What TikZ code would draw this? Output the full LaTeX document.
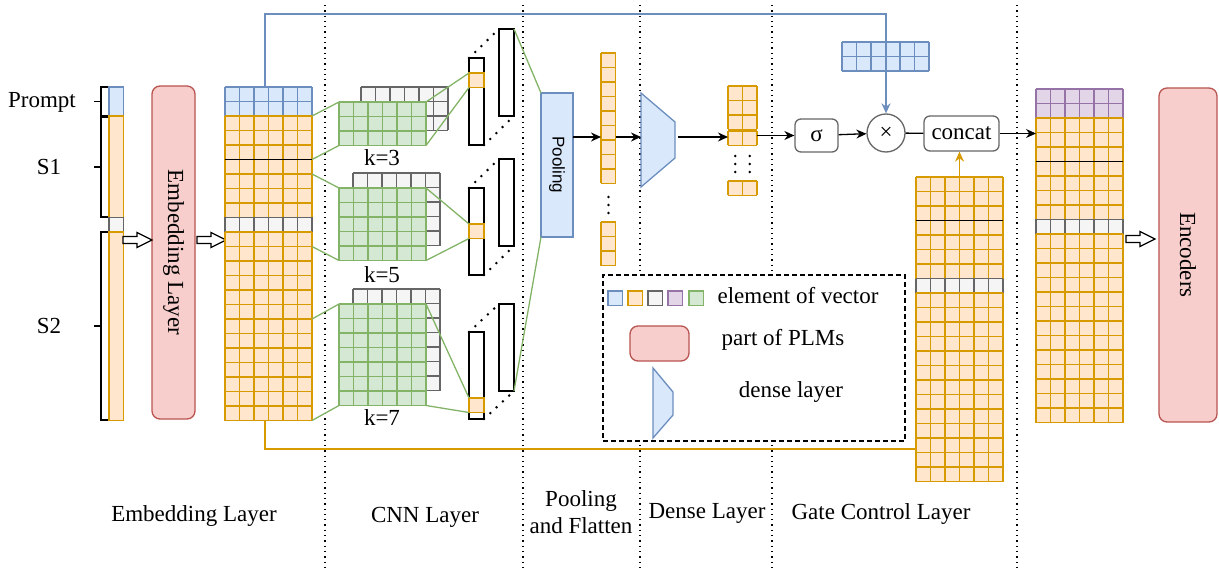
\documentclass[tikz,border=0pt]{standalone}
\usepackage{graphicx}
\usepackage{fontspec}
\setmainfont{Liberation Serif}
\setsansfont{Liberation Sans}
\usetikzlibrary{arrows.meta}
\definecolor{bluefill}{HTML}{DAE8FC}
\definecolor{bluedraw}{HTML}{6C8EBF}
\definecolor{orangefill}{HTML}{FFE6CC}
\definecolor{orangedraw}{HTML}{D79B00}
\definecolor{grayfill}{HTML}{F5F5F5}
\definecolor{graydraw}{HTML}{666666}
\definecolor{purplefill}{HTML}{E1D5E7}
\definecolor{purpledraw}{HTML}{9673A6}
\definecolor{greenfill}{HTML}{D5E8D4}
\definecolor{greendraw}{HTML}{82B366}
\definecolor{redfill}{HTML}{F8CECC}
\definecolor{reddraw}{HTML}{B85450}

% grid of cells: x, y (top left), columns, rows, colour name
\newcommand{\cells}[5]{%
  \fill[#5fill] (#1,#2) rectangle ++({#3*14.5},{#4*14.5});
  \foreach \ci in {0,...,#3} \draw[#5draw, line width=0.8pt] ({#1+\ci*14.5},#2) -- ++(0,{#4*14.5});
  \foreach \cj in {0,...,#4} \draw[#5draw, line width=0.8pt] (#1,{#2+\cj*14.5}) -- ++({#3*14.5},0);}

\begin{document}
\begin{tikzpicture}[x=0.5pt, y=-0.5pt, line width=0.65pt,
  font=\fontsize{11.5}{13.8}\selectfont,
  >={Stealth[length=5pt,width=4.5pt]},
  bluecell/.style={fill=bluefill, draw=bluedraw},
  orangecell/.style={fill=orangefill, draw=orangedraw},
  graycell/.style={fill=grayfill, draw=graydraw},
  purplecell/.style={fill=purplefill, draw=purpledraw},
  greencell/.style={fill=greenfill, draw=greendraw},
  blank/.style={inner sep=0pt, outer sep=0pt, anchor=north west},
  plm/.style={fill=redfill, draw=reddraw, rounded corners=4pt, inner sep=0pt},
  featcol/.style={blank, draw=black, fill=white, line width=0.75pt, minimum width=7.5pt, minimum height=43.5pt},
  featcell/.style={blank, orangecell, line width=0.8pt, minimum width=7.5pt, minimum height=7.25pt},
  greenline/.style={draw=greendraw},
  blueline/.style={draw=bluedraw},
  orangeline/.style={draw=orangedraw},
  dotline/.style={dash pattern=on 0pt off 4.3pt, line cap=round, line width=1.4pt},
  divider/.style={dotted, line width=0.65pt},
  opbox/.style={draw=graydraw, fill=white, rounded corners=3pt, inner sep=0pt},
  densestyle/.style={fill=bluefill, draw=bluedraw},
  hollow/.pic={\draw[fill=white] (0,-3.5) -- (14,-3.5) -- (14,-7.5) -- (29,0) -- (14,7.5) -- (14,3.5) -- (0,3.5) -- cycle;}
]
\useasboundingbox (0,0) rectangle (1219,572);
\foreach \x in {325,523,640,772,1017} \draw[divider] (\x,5) -- (\x,572);

% input sequence
\draw[bluecell, line width=0.8pt] (109,87) rectangle (123.5,116);
\draw[orangecell, line width=0.8pt] (109,116) rectangle (123.5,217.5);
\draw[graycell, line width=0.8pt] (109,217.5) rectangle (123.5,232);
\draw[orangecell, line width=0.8pt] (109,232) rectangle (123.5,420.5);
\node[blank, minimum width=7.25pt, minimum height=166.75pt] (inp) at (109,87) {};
\draw (108,87) -- (101,87) -- (101,116) -- (108,116); \draw (94,101.5) -- (101,101.5);
\draw (108,117) -- (101,117) -- (101,217) -- (108,217); \draw (94,167) -- (101,167);
\draw (108,232) -- (101,232) -- (101,420) -- (108,420); \draw (94,326) -- (101,326);
\node (prompt) at (42,102) {Prompt};
\node (s1) at (49,167) {S1};
\node (s2) at (49,326) {S2};

\node[plm, minimum width=21.5pt, minimum height=166.5pt] (embl) at (173.5,252.5) {\rotatebox{-90}{Embedding Layer}};
\pic at (123,240) {hollow};
\pic at (197,240) {hollow};

% embedding output
\cells{225}{87}{6}{2}{blue}
\cells{225}{116}{6}{7}{orange}
\cells{225}{217.5}{6}{1}{gray}
\cells{225}{232}{6}{13}{orange}
\draw[line width=0.8pt] (225,159.5) -- (312,159.5);
\node[blank, minimum width=43.5pt, minimum height=166.75pt] (emb) at (225,87) {};

% cnn
\cells{361}{87}{6}{3}{gray}
\cells{339}{102}{6}{3}{green}
\node[blank, minimum width=43.5pt, minimum height=21.75pt] (g3) at (339,102) {};
\cells{353}{173}{6}{5}{gray}
\cells{339}{188}{6}{5}{green}
\node[blank, minimum width=43.5pt, minimum height=36.25pt] (g5) at (339,188) {};
\cells{353}{289}{6}{7}{gray}
\cells{339}{304}{6}{7}{green}
\node[blank, minimum width=43.5pt, minimum height=50.75pt] (g7) at (339,304) {};
\node (k3) at (382,158) {k=3};
\node (k5) at (382,275) {k=5};
\node (k7) at (382,418) {k=7};

\node[featcol] (b3) at (499,29) {};
\node[featcol] (f3) at (469,58) {};
\node[featcell] (c3) at (469,73) {};
\node[featcol] (b5) at (499,159) {};
\node[featcol] (f5) at (469,188) {};
\node[featcell] (c5) at (469,224) {};
\node[featcol] (b7) at (499,304) {};
\node[featcol] (f7) at (469,332) {};
\node[featcell] (c7) at (469,398) {};

\draw[greenline] ([yshift=-14.5pt]emb.north east) -- (g3.north west);
\draw[greenline] ([yshift=-36.25pt]emb.north east) -- (g3.south west);
\draw[greenline] ([yshift=-43.5pt]emb.north east) -- (g5.north west);
\draw[greenline] ([yshift=-79.75pt]emb.north east) -- (g5.south west);
\draw[greenline] ([yshift=-116pt]emb.north east) -- (g7.north west);
\draw[greenline] (emb.south east) -- (g7.south west);
\draw[greenline] (g3.north east) -- (c3.north west);
\draw[greenline] (g3.south east) -- (c3.south west);
\draw[greenline] (g5.north east) -- (c5.north west);
\draw[greenline] (g5.south east) -- (c5.south west);
\draw[greenline] (g7.north east) -- (c7.north west);
\draw[greenline] (g7.south east) -- (c7.south west);
\draw[dotline] (f3.north west) -- (b3.north west);
\draw[dotline] (f3.south east) -- (b3.south east);
\draw[dotline] (f5.north west) -- (b5.north west);
\draw[dotline] (f5.south east) -- (b5.south east);
\draw[dotline] (f7.north west) -- (b7.north west);
\draw[dotline] (f7.south east) -- (b7.south east);

% pooling and flatten
\node[blank, fill=bluefill, draw=bluedraw, minimum width=16pt, minimum height=72pt, font=\fontsize{8.5}{10}\sffamily] (pool) at (541,93) {\rotatebox{-90}{Pooling}};
\draw[greenline] (b3.north east) -- (pool.north west);
\draw[greenline] (b7.south east) -- (pool.south west);
\cells{601}{53}{1}{9}{orange}
\node[blank, minimum width=7.25pt, minimum height=65.25pt] (flat) at (601,53) {};
\foreach \d in {0,1,2} \fill (608.5,197+\d*8) circle (0.7pt);
\cells{601}{222}{1}{3}{orange}

% dense
\draw[densestyle] (641,93) -- (675,122) -- (675,158) -- (641,187) -- cycle;
\coordinate (dense-in) at (641,137);
\coordinate (dense-out) at (678,137);
\cells{728}{86}{2}{3}{orange}
\cells{728}{131}{2}{1}{orange}
\node[blank, minimum width=14.5pt, minimum height=29.5pt] (dout) at (728,86) {};
\foreach \d in {0,1,2} {\fill (735.25,156+\d*8) circle (0.7pt); \fill (749.75,156+\d*8) circle (0.7pt);}
\cells{728}{181}{2}{1}{orange}
\draw[->] (pool.east |- dense-in) -- (flat.west |- dense-in);
\draw[->] (flat.east |- dense-in) -- (dense-in);
\draw[->] (dense-out) -- (dout.west |- dense-out);

% gate control
\node[opbox, minimum width=21.5pt, minimum height=16.5pt] (sig) at (816.5,135.5) {σ};
\node[draw=graydraw, fill=white, circle, minimum size=19pt, inner sep=0pt] (times) at (886,133) {×};
\node[opbox, minimum width=37.5pt, minimum height=17.5pt] (concat) at (961.5,133.5) {concat};
\cells{842}{42}{6}{2}{blue}
\node[blank, minimum width=43.5pt, minimum height=14.5pt] (qvec) at (842,42) {};
\cells{916}{177}{6}{7}{orange}
\cells{916}{278.5}{6}{1}{gray}
\cells{916}{293}{6}{13}{orange}
\draw[line width=0.8pt] (916,220.5) -- (1003,220.5);
\node[blank, minimum width=43.5pt, minimum height=152.25pt] (gate) at (916,177) {};
\coordinate (topline) at (0,14);
\coordinate (botline) at (0,449);
\draw[blueline, ->] ([xshift=-1.75pt]emb.north) -- ([xshift=-1.75pt]emb.north |- topline) -| (times.north);
\draw[orangeline] ([xshift=-1.75pt]emb.south) -- ([xshift=-1.75pt]emb.south |- botline) -- (gate.west |- botline);
\draw[orangeline, ->] (gate.north) -- (gate.north |- concat.south);
\draw[->] (dout.east |- sig) -- (sig);
\draw[->] (sig) -- (times);
\draw (times) -- (concat);

% output to encoders
\cells{1036}{89}{6}{2}{purple}
\cells{1036}{118}{6}{7}{orange}
\cells{1036}{219.5}{6}{1}{gray}
\cells{1036}{234}{6}{13}{orange}
\draw[line width=0.8pt] (1036,161.5) -- (1123,161.5);
\node[blank, minimum width=43.5pt, minimum height=166.75pt] (rmat) at (1036,89) {};
\draw[->] (concat) -- (concat -| rmat.west);
\pic at (1126,239) {hollow};
\node[plm, minimum width=29pt, minimum height=167pt] (enc) at (1188,255) {\rotatebox{-90}{Encoders}};

% legend
\node[blank, draw, dash pattern=on 2.5pt off 1.5pt, fill=white, minimum width=151pt, minimum height=83pt] (legend) at (603,275) {};
\foreach \c/\x in {bluecell/608, orangecell/628, graycell/648, purplecell/668, greencell/689} \draw[\c, line width=0.8pt] (\x,291) rectangle ++(14.5,14.5);
\node (lvec) at (798,296) {element of vector};
\node[plm, minimum width=29.5pt, minimum height=17.5pt] (lplm) at (659.5,343.5) {};
\node (lplmt) at (783,340) {part of PLMs};
\draw[densestyle] (653,368) -- (673,392) -- (673,415) -- (653,438) -- cycle;
\node (ldense) at (791,392) {dense layer};

% stage names
\node (l1) at (194,516) {Embedding Layer};
\node (l2) at (425,517) {CNN Layer};
\node[align=center] (l3) at (581,512) {Pooling\\and Flatten};
\node (l4) at (707,513) {Dense Layer};
\node (l5) at (881,514) {Gate Control Layer};
\end{tikzpicture}
\end{document}
